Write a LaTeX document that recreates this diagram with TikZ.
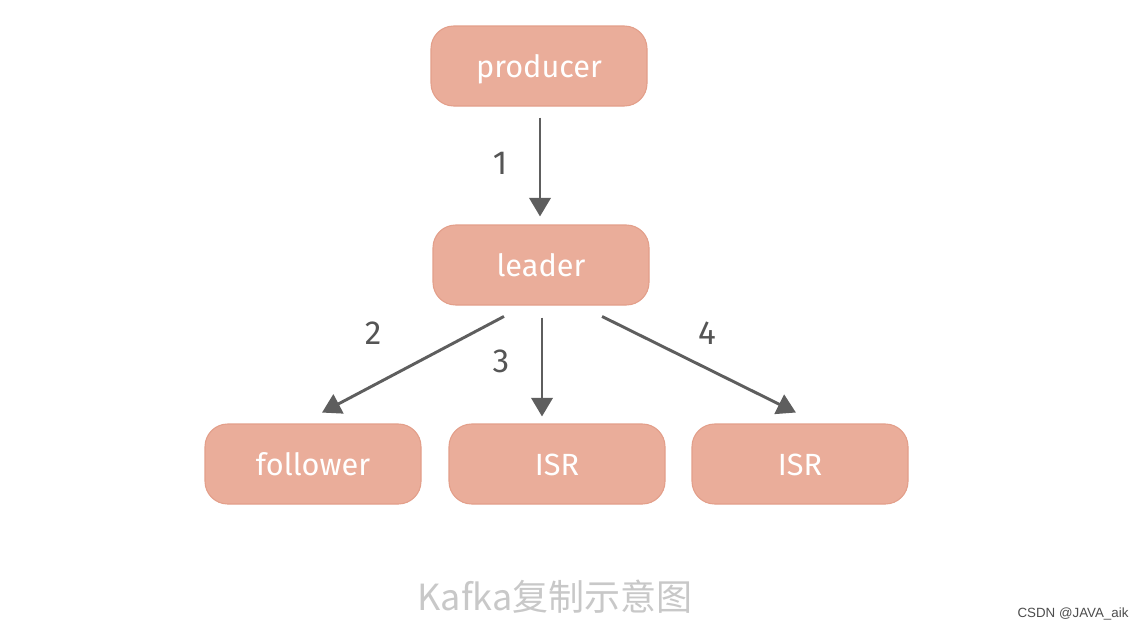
\documentclass[tikz,border=0pt]{standalone}
\usepackage{fontspec}
\setmainfont{Fira Sans}
\newfontfamily\cjkfont{Noto Sans CJK SC}
\newfontfamily\wmfont{Liberation Sans}
\usetikzlibrary{arrows.meta,calc}
\definecolor{boxfill}{HTML}{EAAD9A}
\definecolor{boxline}{HTML}{E39F8A}
\definecolor{arrowgray}{HTML}{5E5E5E}
\definecolor{labelgray}{HTML}{555555}
\definecolor{capgray}{HTML}{C8C8C8}
\definecolor{wmgray}{HTML}{4D4D4D}
\tikzset{
  box/.style={draw=boxline, line width=0.8pt, fill=boxfill, rounded corners=17pt,
    minimum width=162pt, minimum height=60pt, inner sep=0pt,
    text height=22pt, text depth=4.5pt,
    text=white, font=\fontsize{23}{23}\selectfont},
  conn/.style={draw=arrowgray, line width=2.2pt,
    -{Triangle[length=14pt,width=16pt]}},
  numlabel/.style={text=labelgray, font=\fontsize{25}{25}\selectfont, inner sep=0pt}
}
\begin{document}
\begin{tikzpicture}[x=0.75pt,y=-0.75pt]
\path[use as bounding box, fill=white] (0,0) rectangle (1142,628);
\node[box] (producer) at (539,66) {producer};
\node[box] (leader) at (541,265) {leader};
\node[box] (follower) at (313,464) {follower};
\node[box] (isr1) at (557,464) {ISR};
\node[box] (isr2) at (800,464) {ISR};

\draw[conn, shorten <=8.25pt, shorten >=6pt] ([xshift=0.75pt]producer.south) -- ([xshift=-0.75pt]leader.north);
\draw[conn, shorten <=17.5pt, shorten >=17.5pt] ([xshift=-12.3pt]leader.south) -- ([xshift=-8.7pt]follower.north);
\draw[conn, shorten <=9pt, shorten >=5.25pt] ([xshift=0.75pt]leader.south) -- ([xshift=0.75pt]leader.south |- isr1.north);
\draw[conn, shorten <=18.5pt, shorten >=18.5pt] ([xshift=29.25pt]leader.south) -- ([xshift=13.5pt]isr2.north);

\node[numlabel] (n1) at (500,163) {1};
\node[numlabel] (n2) at (373,333) {2};
\node[numlabel] (n3) at (501,361) {3};
\node[numlabel] (n4) at (707,333) {4};

\node[text=capgray, font=\cjkfont\fontsize{27}{27}\selectfont, inner sep=0pt] (caption) at (555,597) {Kafka复制示意图};
\node[text=wmgray, font=\wmfont\fontsize{10}{10}\selectfont, inner sep=0pt] (wm) at (1073,614) {CSDN @JAVA\_aik};
\end{tikzpicture}
\end{document}
